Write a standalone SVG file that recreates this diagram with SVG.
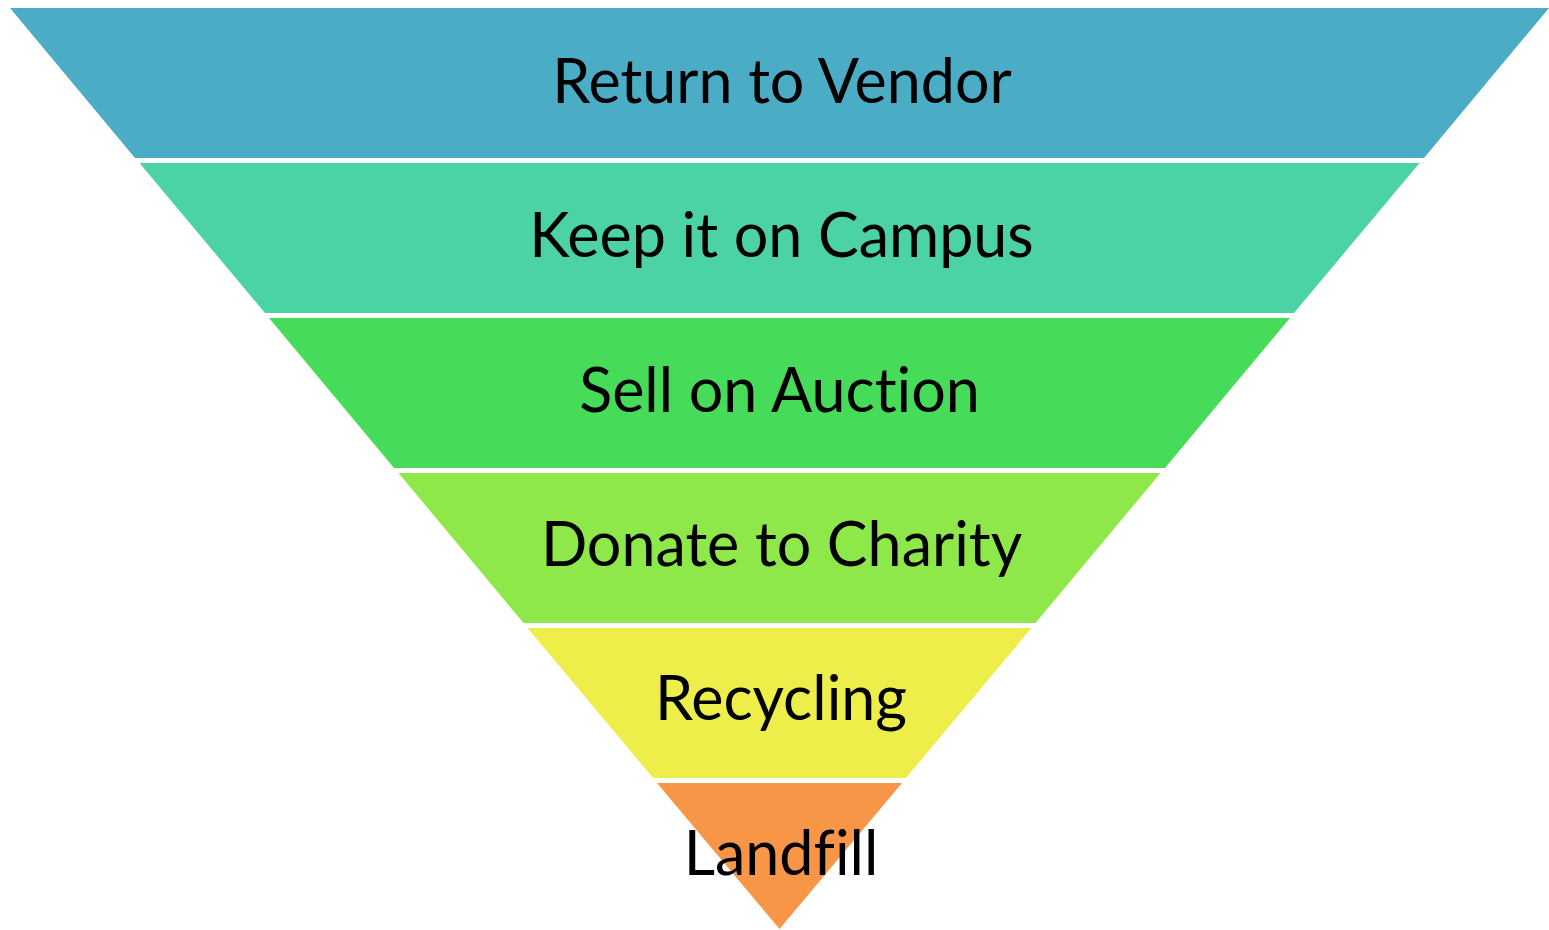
<svg xmlns="http://www.w3.org/2000/svg" width="1549" height="930" viewBox="0 0 1549 930">
<style>
.lbl{font-family:Lato,"Open Sans","Liberation Sans",sans-serif;font-size:61px;fill:#000;text-anchor:middle;font-variant-ligatures:none}
</style>
<rect width="1549" height="930" fill="#fff"/>
<g id="return-to-vendor">
<polygon points="10,8 1549,8 1424,158 135,158" fill="#4BACC6"/>
<text class="lbl" x="782" y="103">Return to Vendor</text>
</g>
<g id="keep-on-campus">
<polygon points="139.5,163 1419.5,163 1294,313 265,313" fill="#4BD2A5"/>
<text class="lbl" x="781.5" y="257">Keep it on Campus</text>
</g>
<g id="sell-on-auction">
<polygon points="269,318 1290,318 1165,468 394,468" fill="#47DB5A"/>
<text class="lbl" x="779.5" y="412">Sell on Auction</text>
</g>
<g id="donate-to-charity">
<polygon points="398.5,473 1160.5,473 1035.5,623 523.5,623" fill="#8FE84A"/>
<text class="lbl" x="781.5" y="566">Donate to Charity</text>
</g>
<g id="recycling">
<polygon points="527.5,628 1031.5,628 906,778 653,778" fill="#EEEE4A"/>
<text class="lbl" x="781" y="720">Recycling</text>
</g>
<g id="landfill">
<polygon points="657,783 902,783 779.5,929" fill="#F79646"/>
<text class="lbl" x="781" y="875">Landfill</text>
</g>
</svg>
